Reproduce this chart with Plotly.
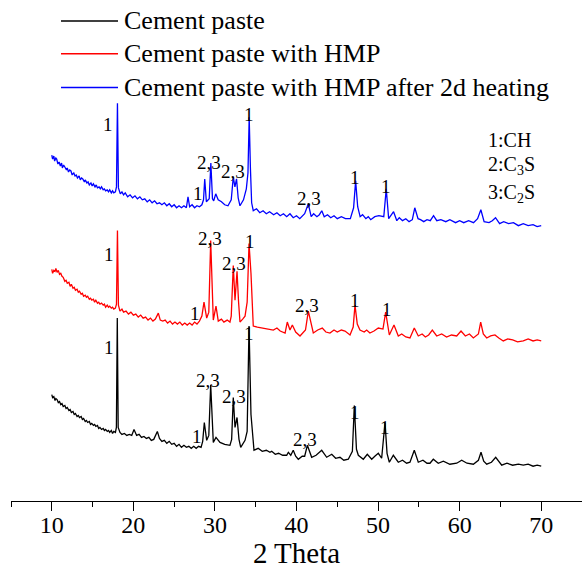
import plotly.graph_objects as go

# ---------------- data ----------------
# 2 theta (deg) and offset intensity (a.u.) for each pattern
blue_x = [10.0, 10.1, 10.25, 10.35, 10.5, 10.6, 10.75, 10.9, 11.05, 11.2, 11.3, 11.45, 11.6, 11.8,
          11.9, 12.05, 12.2, 12.35, 12.5, 12.7, 12.85, 13.0, 13.15, 13.35, 13.5, 13.65, 13.8,
          14.0, 14.1, 14.3, 14.45, 14.6, 14.8, 14.95, 15.1, 15.3, 15.45, 15.6, 15.8, 15.95,
          16.1, 16.3, 16.45, 16.6, 16.8, 16.95, 17.1, 17.3, 17.45, 17.6, 17.8, 17.93,
          18.05, 18.17, 18.4, 18.6, 18.8, 19.0, 19.3, 19.6, 19.9, 20.2, 20.5, 20.8, 21.1,
          21.4, 21.7, 22.0, 22.3, 22.6, 22.9, 23.2, 23.5, 23.8, 24.1, 24.4, 24.7, 25.0, 25.3,
          25.6, 25.9, 26.2, 26.5, 26.7, 26.9, 27.2, 27.5, 27.8, 28.1, 28.4, 28.6, 28.75,
          28.95, 29.3, 29.5, 29.7, 29.85, 30.1, 30.4, 30.8, 31.2, 31.6, 32.0, 32.25, 32.45,
          32.65, 32.85, 33.07, 33.5, 33.85, 34.05, 34.2, 34.35, 34.5, 34.7, 35.1, 35.5, 35.9,
          36.3, 36.7, 37.2, 37.6, 38.0, 38.4, 38.8, 39.2, 39.6, 40.0, 40.4, 41.0, 41.45,
          41.8, 42.1, 42.5, 42.8, 43.1, 43.4, 43.8, 44.2, 44.6, 45.0, 45.5, 46.0, 46.6,
          47.0, 47.25, 47.5, 47.8, 48.1, 48.5, 48.8, 49.1, 49.6, 50.1, 50.7, 51.0, 51.3,
          51.9, 52.3, 52.6, 53.0, 53.4, 53.8, 54.2, 54.5, 54.9, 55.2, 55.6, 56.0, 56.4, 56.8,
          57.2, 57.7, 58.3, 58.8, 59.5, 60.0, 60.5, 61.1, 61.7, 62.2, 62.6, 63.0, 63.6,
          64.0, 64.4, 64.9, 65.4, 66.0, 66.6, 67.2, 67.8, 68.4, 69.0, 69.5, 70.0]
blue_y = [348, 344, 347, 342, 345, 344, 339, 341, 337, 340, 335, 338, 336, 333,
          335, 331, 333, 332, 328, 330, 327, 328, 325, 327, 323, 325, 324,
          321, 323, 320, 321, 318, 320, 317, 319, 316, 318, 315, 316, 314,
          316, 313, 314, 312, 313, 311, 313, 310, 312, 310, 311, 316,
          400, 315, 309, 311, 308, 310, 306, 308, 305, 307, 304, 306, 303,
          304, 301, 303, 300, 302, 299, 300, 298, 300, 297, 299, 296, 298, 295,
          297, 295, 297, 295, 306, 296, 298, 295, 297, 296, 298, 303, 324,
          301, 304, 340, 304, 302, 309, 303, 301, 298, 297, 303, 326, 316,
          324, 305, 297, 303, 314, 330, 386, 335, 300, 292, 294, 290, 292,
          289, 291, 288, 290, 287, 289, 286, 289, 285, 287, 284, 289, 299,
          286, 289, 286, 288, 292, 286, 288, 285, 287, 284, 286, 284, 284,
          295, 322, 296, 286, 288, 284, 286, 283, 286, 287, 286, 314, 284,
          291, 282, 285, 282, 284, 281, 283, 295, 284, 283, 281, 283, 282, 287,
          282, 283, 281, 283, 280, 282, 280, 282, 280, 284, 293, 281, 280,
          282, 285, 279, 281, 279, 280, 277, 279, 277, 278, 276, 277]

red_x = [10.0, 10.1, 10.25, 10.4, 10.5, 10.65, 10.8, 10.95, 11.1, 11.25, 11.4, 11.6, 11.75, 11.9,
         12.1, 12.25, 12.4, 12.6, 12.75, 12.9, 13.1, 13.25, 13.4, 13.6, 13.75, 13.9, 14.1,
         14.25, 14.4, 14.6, 14.75, 14.9, 15.1, 15.25, 15.4, 15.6, 15.75, 15.9, 16.1, 16.3,
         16.45, 16.6, 16.8, 16.95, 17.1, 17.3, 17.45, 17.6, 17.8, 17.93,
         18.05, 18.17, 18.36, 18.6, 18.8, 19.1, 19.4, 19.7, 20.0, 20.3, 20.6, 20.9, 21.2,
         21.5, 21.8, 22.1, 22.4, 22.7, 23.06, 23.3, 23.6, 23.9, 24.2, 24.5, 24.8, 25.1,
         25.4, 25.7, 26.0, 26.3, 26.6, 26.9, 27.2, 27.5, 27.8, 28.1, 28.4, 28.66, 28.99,
         29.25, 29.48, 29.7, 29.8, 30.13, 30.41, 30.8, 31.1, 31.5, 31.84, 32.0, 32.25,
         32.46, 32.71, 32.9, 33.07, 33.4, 33.69, 33.95, 34.18, 34.42, 34.7, 35.2, 35.8,
         36.4, 37.16, 37.6, 38.0, 38.6, 38.87, 39.2, 39.49, 39.9, 40.43, 41.1, 41.45,
         42.06, 42.6, 43.16, 43.6, 44.1, 44.6, 45.0, 45.5, 45.95, 46.56, 46.95, 47.17,
         47.45, 47.78, 48.3, 48.6, 49.0, 49.5, 50.03, 50.6, 50.93, 51.2, 51.38, 51.95,
         52.48, 52.9, 53.4, 53.91, 54.44, 54.93, 55.4, 55.8, 56.2, 56.65, 57.19, 57.8,
         58.4, 59.0, 59.64, 60.17, 60.7, 61.2, 61.68, 62.3, 62.58, 62.9, 63.32, 63.8,
         64.33, 64.8, 65.35, 65.9, 66.5, 67.1, 67.8, 68.4, 69.0, 69.5, 70.0]
red_y = [233, 229, 232, 231, 234, 230, 232, 228, 229, 226, 225, 221, 222, 219,
         220, 216, 218, 214, 215, 212, 213, 210, 211, 208, 209, 206, 207,
         205, 206, 203, 204, 202, 203, 200, 202, 199, 200, 198, 199, 197,
         198, 195, 197, 195, 196, 194, 195, 193, 194, 198,
         272, 197, 191, 193, 190, 191, 188, 190, 187, 188, 185, 187, 184,
         185, 182, 184, 181, 183, 189, 182, 181, 182, 179, 181, 178, 180,
         178, 180, 177, 179, 177, 179, 177, 180, 178, 181, 186, 200, 184,
         190, 262, 190, 182, 196, 181, 183, 180, 182, 180, 186, 237,
         202, 231, 200, 180, 183, 186, 200, 259, 229, 176, 175, 174,
         173, 172, 174, 171, 169, 180, 172, 177, 170, 166, 172, 191,
         169, 172, 174, 170, 169, 172, 170, 172, 171, 167, 175, 197,
         178, 172, 170, 172, 169, 171, 174, 173, 190, 176, 167, 177,
         166, 168, 165, 164, 174, 166, 168, 165, 167, 172, 166, 168,
         165, 167, 166, 171, 166, 168, 164, 168, 180, 168, 164, 166,
         167, 164, 161, 163, 162, 160, 161, 163, 161, 162, 161]

black_x = [10.0, 10.1, 10.25, 10.4, 10.5, 10.65, 10.8, 10.95, 11.1, 11.25, 11.4, 11.6, 11.75, 11.9,
           12.1, 12.25, 12.4, 12.6, 12.75, 12.9, 13.1, 13.25, 13.4, 13.6, 13.75, 13.9, 14.1,
           14.25, 14.4, 14.6, 14.75, 14.9, 15.1, 15.25, 15.4, 15.6, 15.75, 15.9, 16.1, 16.3,
           16.45, 16.6, 16.8, 16.95, 17.1, 17.3, 17.45, 17.6, 17.8, 17.92,
           18.03, 18.14, 18.36, 18.6, 18.9, 19.2, 19.5, 19.8, 20.08, 20.4, 20.7, 21.0, 21.3,
           21.6, 21.9, 22.2, 22.5, 22.94, 23.2, 23.5, 23.8, 24.1, 24.4, 24.7, 25.0, 25.3,
           25.6, 25.9, 26.2, 26.5, 26.8, 27.1, 27.4, 27.7, 28.0, 28.3, 28.5, 28.7, 28.99,
           29.25, 29.48, 29.7, 29.8, 30.13, 30.62, 31.2, 31.84, 32.05, 32.25, 32.46, 32.71,
           32.95, 33.16, 33.69, 33.95, 34.18, 34.42, 34.79, 35.3, 35.8, 36.3, 36.75, 36.96,
           37.4, 37.8, 38.3, 38.8, 39.0, 39.3, 39.6, 39.9, 40.22, 40.7, 41.0, 41.33, 41.86,
           42.4, 43.09, 43.7, 44.32, 44.8, 45.33, 45.8, 46.35, 46.85, 47.09, 47.35, 47.58,
           48.19, 48.68, 49.22, 49.6, 50.03, 50.44, 50.85, 51.1, 51.38, 51.87, 52.48, 53.0,
           53.5, 53.91, 54.44, 54.93, 55.5, 56.0, 56.36, 56.77, 57.38, 58.0, 58.8, 59.64,
           60.25, 60.9, 61.68, 62.3, 62.62, 62.95, 63.32, 63.9, 64.42, 65.16, 65.8, 66.5,
           67.2, 67.8, 68.4, 69.0, 69.5, 70.0]
black_y = [107, 104, 105, 101, 103, 102, 99, 100, 97, 98, 95, 96, 93, 94,
           91, 92, 89, 90, 87, 88, 85, 86, 84, 85, 82, 83, 80,
           81, 79, 80, 77, 78, 76, 77, 75, 76, 73, 74, 72, 73,
           71, 72, 70, 71, 69, 71, 68, 70, 69, 74,
           184, 74, 69, 67, 68, 66, 67, 66, 72, 66, 67, 64, 65,
           63, 64, 61, 62, 70, 63, 60, 61, 58, 60, 57, 58, 55,
           57, 54, 56, 54, 55, 53, 55, 53, 55, 54, 60, 79, 61,
           66, 117, 66, 59, 64, 59, 57, 56, 62, 104, 74, 84,
           62, 54, 61, 70, 176, 87, 51, 53, 50, 51, 49, 50,
           47, 48, 46, 46, 49, 46, 51, 45, 42, 45, 45, 56, 44,
           46, 51, 44, 47, 43, 44, 41, 42, 50, 96, 52, 46,
           42, 47, 42, 45, 48, 43, 79, 48, 39, 46, 39, 41,
           38, 39, 51, 39, 41, 38, 38, 42, 38, 40, 37, 38,
           41, 38, 37, 41, 49, 40, 37, 39, 44, 36, 38, 36,
           37, 36, 37, 35, 36, 35]

series_names = ["Cement paste", "Cement paste with HMP",
                "Cement paste with HMP after 2d heating"]
series_colors = ["#000000", "#ff0000", "#0000ff"]

# peak labels: (2 theta, intensity, text)
label_x = [16.95, 29.27, 27.93, 32.22, 34.12, 41.53, 47.23, 50.97,
           17.01, 29.4, 32.28, 34.24, 27.56, 41.23, 47.11, 51.1,
           17.01, 29.15, 32.28, 34.18, 27.8, 41.04, 47.11, 50.79]
label_y = [379, 341, 309, 331, 389, 304, 325, 316,
           248, 264, 239, 261, 189, 197, 202, 193,
           154, 121, 105, 169, 65, 62, 89, 74]
label_text = ["1", "2,3", "1", "2,3", "1", "2,3", "1", "1",
              "1", "2,3", "2,3", "1", "1", "2,3", "1", "1",
              "1", "2,3", "2,3", "1", "1", "2,3", "1", "1"]

key_text = ["1:CH", "2:C<sub>3</sub>S", "3:C<sub>2</sub>S"]
key_y = [363, 338, 309]
key_x = 63.2

# ---------------- figure ----------------
SERIF = "Liberation Serif"
W, H = 582, 569
ML, MR, MT, MB = 11, 0, 0, 65
PW, PH = W - ML - MR, H - MT - MB

fig = go.Figure()
for xs, ys, name, col in zip([black_x, red_x, blue_x], [black_y, red_y, blue_y],
                             series_names, series_colors):
    fig.add_trace(go.Scatter(x=xs, y=ys, mode="lines", name=name, showlegend=False,
                             line=dict(color=col, width=1.3)))

for x, y, t in zip(label_x, label_y, label_text):
    fig.add_annotation(x=x, y=y, text=t, showarrow=False,
                       font=dict(family=SERIF, size=19, color="black"),
                       xanchor="center", yanchor="middle")
for t, y in zip(key_text, key_y):
    fig.add_annotation(x=key_x, y=y, text=t, showarrow=False,
                       font=dict(family=SERIF, size=20, color="black"),
                       xanchor="left", yanchor="middle")

# legend drawn in the Origin style (long sample lines)
leg_rows_px = [21, 54, 88]
for name, col, ypx in zip(series_names, series_colors, leg_rows_px):
    yp = (PH - ypx) / PH
    fig.add_shape(type="line", xref="paper", yref="paper",
                  x0=(61 - ML) / PW, x1=(118 - ML) / PW, y0=yp, y1=yp,
                  line=dict(color=col, width=1.5))
    fig.add_annotation(xref="paper", yref="paper", x=(122 - ML) / PW, y=yp,
                       text=name, showarrow=False, xanchor="left", yanchor="middle",
                       font=dict(family=SERIF, size=26, color="black"))

fig.update_layout(
    width=W, height=H,
    margin=dict(l=ML, r=MR, t=MT, b=MB),
    paper_bgcolor="white", plot_bgcolor="white",
    font=dict(family=SERIF, color="black"),
    showlegend=False,
    xaxis=dict(range=[5, 75], dtick=10, tick0=0, showgrid=False, zeroline=False,
               showline=True, linecolor="black", linewidth=1.3,
               ticks="outside", ticklen=9, tickwidth=1.3, tickcolor="black",
               ticklabelstandoff=-7,
               tickfont=dict(family=SERIF, size=24, color="black"),
               minor=dict(dtick=5, ticks="outside", ticklen=5, tickwidth=1.3,
                          tickcolor="black", showgrid=False),
               title=dict(text="2 Theta", font=dict(family=SERIF, size=29, color="black"),
                          standoff=11)),
    yaxis=dict(range=[0, PH], visible=False, showgrid=False, zeroline=False),
)

fig.write_html("out.html", config={"displayModeBar": False},
               post_script="document.body.style.margin='0px';")
